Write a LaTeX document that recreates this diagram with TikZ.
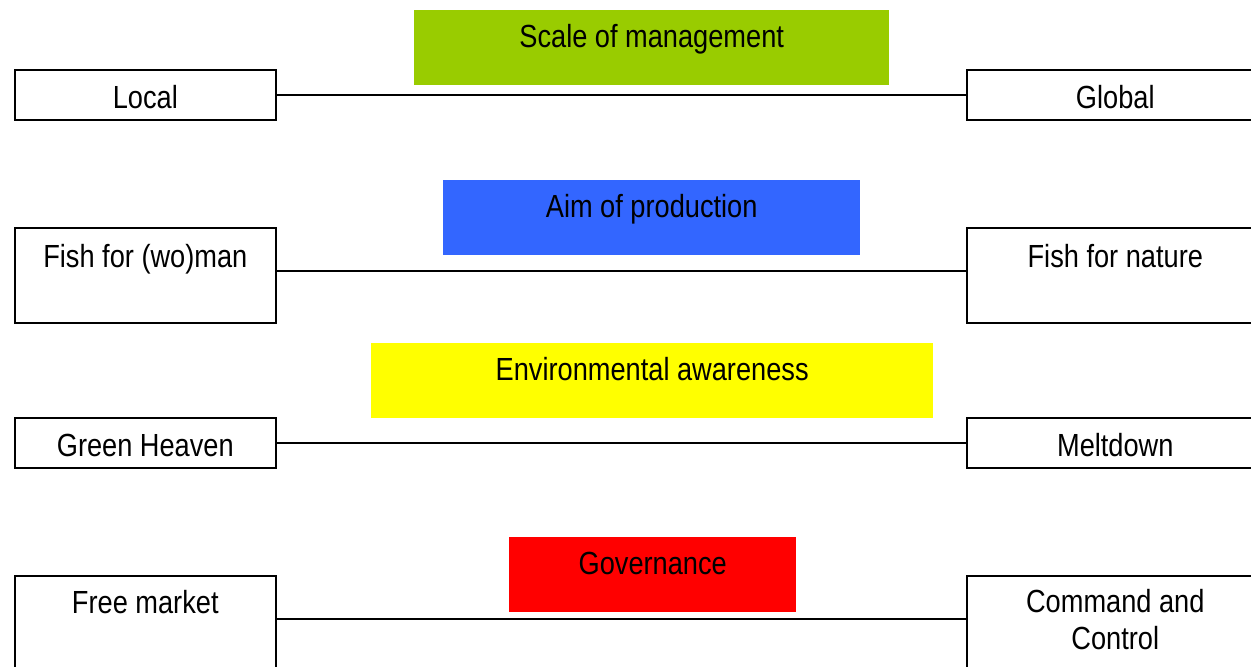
\documentclass[tikz,border=0pt]{standalone}
\usepackage{fontspec}
\setmainfont{Liberation Sans}[FakeStretch=0.85]
\usetikzlibrary{positioning}

\definecolor{scalegreen}{HTML}{99CC00}
\definecolor{aimblue}{HTML}{3366FF}
\definecolor{envyellow}{HTML}{FFFF00}
\definecolor{govred}{HTML}{FF0000}

\begin{document}
\begin{tikzpicture}[x=1pt,y=-1pt,
    font=\fontsize{32}{37}\selectfont,
    pole/.style={draw,line width=1.6pt,inner sep=0pt,align=center,anchor=north west},
    short/.style={pole,text height=39pt,text depth=11pt},
    tall/.style={pole,text height=40pt,text depth=55pt},
    axis/.style={fill=#1,inner sep=0pt,anchor=north west,text height=37pt,text depth=38pt},
    link/.style={line width=1.6pt}]
    \clip (0,0) rectangle (1251,667);

    % Scale of management
    \node[axis=scalegreen,minimum width=475pt] (scale) at (414,10) {Scale of management};
    \node[short,minimum width=261pt] (local) at (14,69) {Local};
    \node[short,minimum width=297pt] (global) at (966,69) {Global};
    \draw[link] (local) -- (global);

    % Aim of production
    \node[axis=aimblue,minimum width=417pt] (aim) at (443,180) {Aim of production};
    \node[tall,minimum width=261pt] (fishman) at (14,227) {Fish for (wo)man};
    \node[tall,minimum width=297pt] (fishnature) at (966,227) {Fish for nature};
    \draw[link] ([yshift=4.5pt]fishman.east) -- ([yshift=4.5pt]fishnature.west);

    % Environmental awareness
    \node[axis=envyellow,minimum width=562pt] (env) at (371,343) {Environmental awareness};
    \node[short,minimum width=261pt] (green) at (14,417) {Green Heaven};
    \node[short,minimum width=297pt] (meltdown) at (966,417) {Meltdown};
    \draw[link] (green) -- (meltdown);

    % Governance
    \node[axis=govred,minimum width=287pt] (gov) at (509,537) {Governance};
    \node[tall,text height=38pt,text depth=57pt,minimum width=261pt] (market) at (14,575) {Free market};
    \node[tall,text height=74pt,text depth=21pt,minimum width=297pt] (command) at (966,575) {Command and\\Control};
    \draw[link] ([yshift=4.5pt]market.east) -- ([yshift=4.5pt]command.west);
\end{tikzpicture}
\end{document}
